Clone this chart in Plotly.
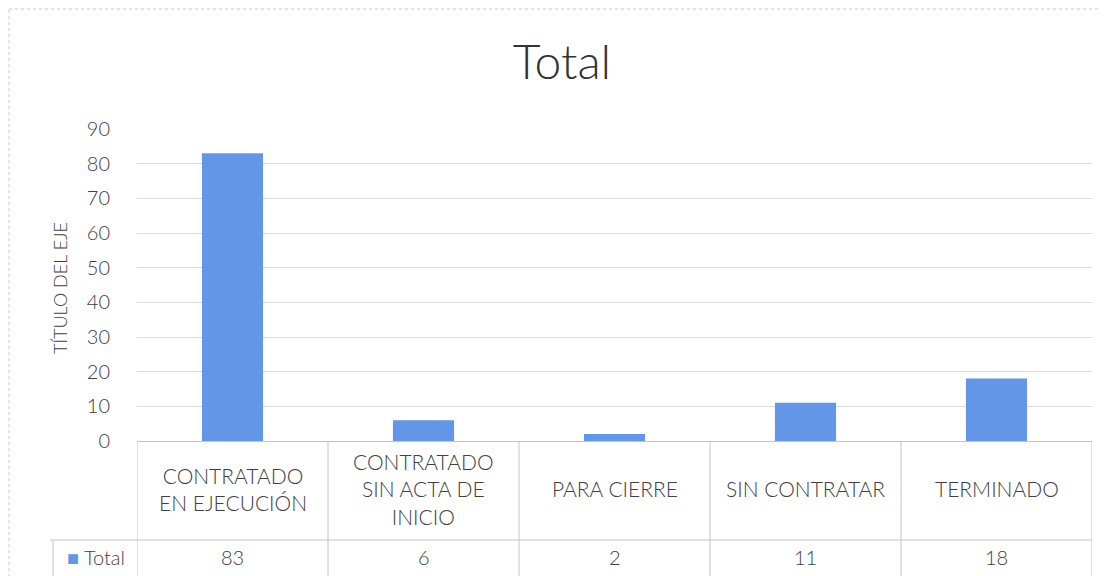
import plotly.graph_objects as go

categories = ["CONTRATADO<br>EN EJECUCIÓN", "CONTRATADO<br>SIN ACTA DE<br>INICIO", "PARA CIERRE", "SIN CONTRATAR", "TERMINADO"]
values = [83, 6, 2, 11, 18]
series_name = "Total"
y_ticks = [0, 10, 20, 30, 40, 50, 60, 70, 80, 90]

OFF = 8  # page body margin in the browser
W, H = 1106 - OFF, 576 - OFF
# plot area in browser pixels: x 137..1092, y 129..441
L, R, T, B = 137 - OFF, 1106 - 1092, 129 - OFF, 576 - 441
pw, ph = W - L - R, H - T - B

def py(p):  # browser pixel y -> paper y
    return (441 - p) / ph

def px(p):  # browser pixel x -> paper x
    return (p - 137) / pw

bar_color = "#6396E6"
txt = "#404040"
line_c = "#c4c4c4"
font_f = "Lato, Carlito, 'Open Sans', sans-serif"

xs = list(range(len(categories)))
fig = go.Figure(go.Bar(x=xs, y=values, width=0.32, marker=dict(color=bar_color, line=dict(width=0)), name=series_name))

shapes = []
for i in range(len(categories) + 1):
    shapes.append(dict(type="line", xref="x", yref="paper", x0=i - 0.5, x1=i - 0.5, y0=py(441), y1=py(580),
                       line=dict(color=line_c, width=1)))
shapes.append(dict(type="line", xref="paper", yref="paper", x0=px(50), x1=1, y0=py(540), y1=py(540),
                   line=dict(color=line_c, width=1)))
shapes.append(dict(type="line", xref="paper", yref="paper", x0=px(53), x1=px(53), y0=py(540), y1=py(580),
                   line=dict(color=line_c, width=1)))
shapes.append(dict(type="rect", xref="paper", yref="paper", x0=px(9), x1=px(1103), y0=py(9), y1=py(600),
                   line=dict(color="#c8c8c8", width=1, dash="dot")))

annotations = []
for i, (c, v) in enumerate(zip(categories, values)):
    annotations.append(dict(x=i, y=py(489), xref="x", yref="paper", text=c, showarrow=False,
                            font=dict(size=21, color=txt, family=font_f, weight=300), align="center", yanchor="middle"))
    annotations.append(dict(x=i, y=py(557), xref="x", yref="paper", text=str(v), showarrow=False,
                            font=dict(size=20, color=txt, family=font_f, weight=300), yanchor="middle"))
annotations.append(dict(x=px(96), y=py(557), xref="paper", yref="paper",
                        text=f"<span style='color:{bar_color};font-size:20px'>■</span> {series_name}", showarrow=False,
                        font=dict(size=20, color=txt, family=font_f, weight=300), xanchor="center", yanchor="middle"))
annotations.append(dict(x=px(60), y=py(288), xref="paper", yref="paper", text="TÍTULO DEL EJE", textangle=-90,
                        showarrow=False, font=dict(size=18, color=txt, family=font_f, weight=300),
                        xanchor="center", yanchor="middle"))

fig.update_layout(
    width=W, height=H,
    margin=dict(l=L, r=R, t=T, b=B),
    paper_bgcolor="white", plot_bgcolor="white",
    showlegend=False,
    title=dict(text="Total", x=px(562), xref="paper", xanchor="center", y=1 - (62 - OFF) / H, yref="container",
               yanchor="middle", font=dict(size=48, color="#333333", family=font_f, weight=300)),
    xaxis=dict(range=[-0.5, len(categories) - 0.5], showticklabels=False, showgrid=False, zeroline=False,
               showline=True, linecolor=line_c, linewidth=1, fixedrange=True),
    yaxis=dict(range=[0, 90], tickvals=y_ticks, showgrid=True, gridcolor="#dadada", gridwidth=1, zeroline=False,
               ticks="outside", ticklen=22, tickcolor="rgba(0,0,0,0)",
               tickfont=dict(size=20, color=txt, family=font_f, weight=300), showline=False),
    shapes=shapes,
    annotations=annotations,
)

fig.write_html("out.html")
